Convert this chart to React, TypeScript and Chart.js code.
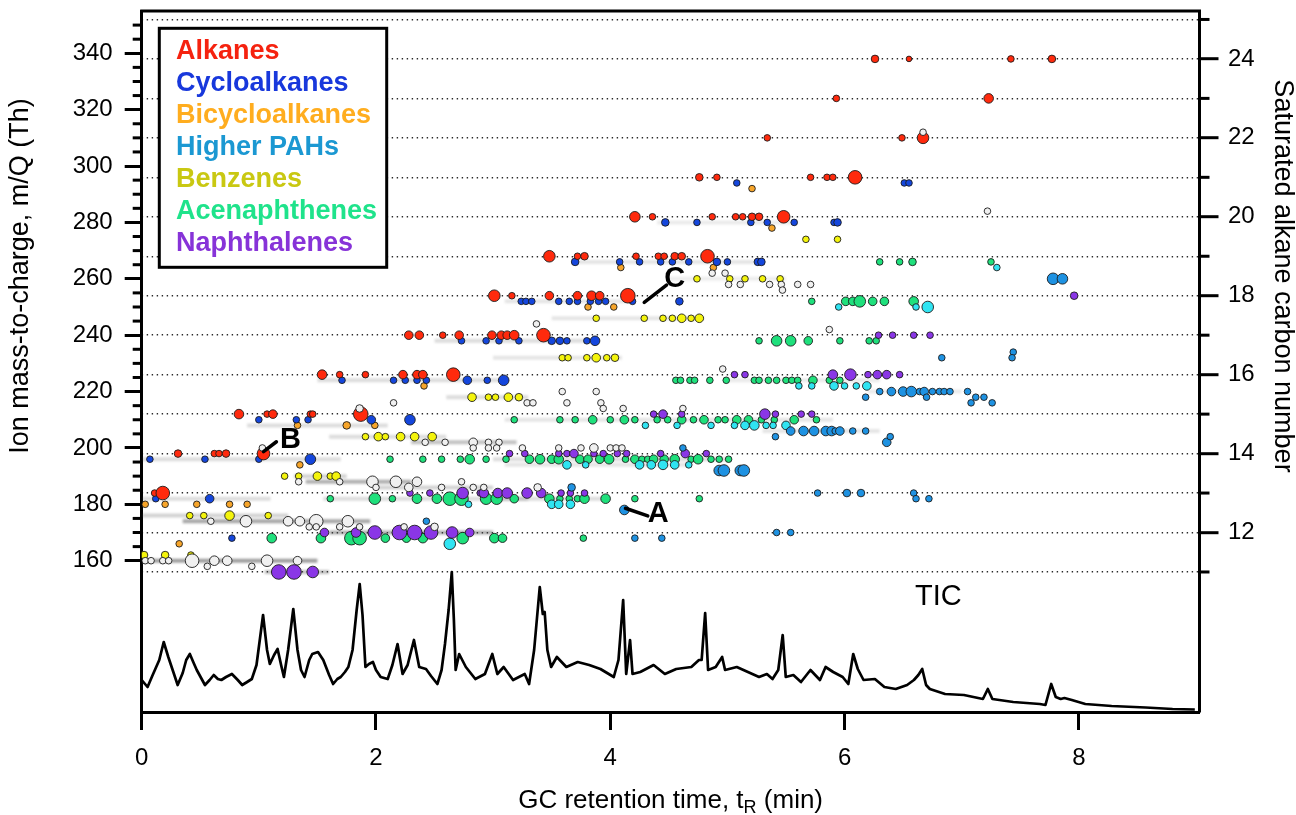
import React, { useEffect, useRef } from 'react';
import { Chart, registerables } from 'chart.js';

Chart.register(...registerables);

// [retention time (min), ion m/Q (Th), relative signal]
type Pt = [number, number, number];

const alkanes: Pt[] = [
  [6.26, 338, 2], [6.55, 338, 0], [7.42, 338, 1], [7.77, 338, 2],
  [5.93, 324, 1], [7.23, 324, 4],
  [5.34, 310, 1], [6.49, 310, 1], [6.67, 310, 6],
  [4.76, 296, 2], [4.91, 296, 1], [5.71, 296, 1], [5.85, 296, 1], [5.9, 296, 1], [6.09, 296, 8],
  [4.21, 282, 5], [4.36, 282, 1], [4.87, 282, 1], [5.07, 282, 1], [5.13, 282, 1], [5.21, 282, 2], [5.27, 282, 2], [5.48, 282, 7],
  [3.48, 268, 6], [3.72, 268, 1], [3.78, 268, 2], [4.22, 268, 1], [4.41, 268, 1], [4.46, 268, 1], [4.55, 268, 2], [4.61, 268, 2], [4.83, 268, 8],
  [3.01, 254, 6], [3.16, 254, 1], [3.48, 254, 3], [3.72, 254, 3], [3.84, 254, 4], [3.91, 254, 3], [4.15, 254, 9],
  [2.28, 240, 3], [2.37, 240, 3], [2.57, 240, 1], [2.71, 240, 3], [2.99, 240, 3], [3.07, 240, 3], [3.12, 240, 3], [3.18, 240, 4], [3.43, 240, 8],
  [1.54, 226, 4], [1.69, 226, 1], [1.91, 226, 1], [2.23, 226, 3], [2.35, 226, 3], [2.4, 226, 3], [2.66, 226, 8],
  [0.83, 212, 4], [1.07, 212, 1], [1.12, 212, 3], [1.44, 212, 1], [1.46, 212, 1], [1.87, 212, 9],
  [0.31, 198, 2], [0.62, 198, 1], [0.66, 198, 1], [0.72, 198, 2], [1.04, 198, 7],
  [0.11, 184, 1], [0.18, 184, 8],
];

const cycloalkanes: Pt[] = [
  [5.08, 294, 1], [6.51, 294, 1], [6.55, 294, 1],
  [4.47, 280, 2], [4.74, 280, 1], [5.2, 280, 1], [5.34, 280, 1], [5.57, 280, 1], [5.91, 280, 1], [5.94, 280, 2],
  [3.7, 266, 2], [4.08, 266, 1], [4.25, 266, 1], [4.43, 266, 1], [4.53, 266, 1], [4.67, 266, 1], [4.91, 266, 2], [5.0, 266, 1], [5.26, 266, 2], [5.29, 266, 2],
  [3.24, 252, 1], [3.28, 252, 1], [3.33, 252, 1], [3.56, 252, 1], [3.65, 252, 1], [3.72, 252, 1], [3.83, 252, 1], [3.9, 252, 1], [3.96, 252, 1], [4.19, 252, 1], [4.59, 252, 2],
  [2.73, 238, 1], [2.94, 238, 1], [3.05, 238, 1], [3.22, 238, 1], [3.5, 238, 2], [3.57, 238, 2], [3.63, 238, 1], [3.8, 238, 1], [3.87, 238, 4],
  [1.71, 224, 1], [2.15, 224, 1], [2.25, 224, 1], [2.35, 224, 1], [2.43, 224, 1], [2.78, 224, 3], [2.95, 224, 1], [3.09, 224, 5],
  [1.0, 210, 1], [1.32, 210, 1], [1.42, 210, 1], [1.96, 210, 3], [2.29, 210, 5],
  [0.07, 196, 1], [0.54, 196, 1], [1.0, 196, 1], [1.44, 196, 5],
  [0.12, 182, 1], [0.58, 182, 3],
  [0.77, 168, 1],
];

const bicycloalkanes: Pt[] = [
  [5.21, 292, 1], [5.38, 278, 1], [4.09, 264, 1], [4.88, 264, 1], [3.81, 250, 1], [4.03, 250, 1],
  [2.41, 222, 1], [1.33, 208, 1], [1.75, 208, 2], [1.99, 208, 1], [1.35, 194, 1],
  [0.03, 180, 1], [0.2, 180, 1], [0.47, 180, 1], [0.75, 180, 1], [0.9, 180, 1], [0.32, 166, 1],
];

const higherPAHs: Pt[] = [
  [7.78, 260, 6], [7.86, 260, 5],
  [6.83, 232, 1], [7.44, 234, 1], [7.43, 232, 1],
  [6.3, 220, 1], [6.4, 220, 3], [6.5, 220, 4], [6.57, 220, 5], [6.64, 220, 1], [6.68, 220, 3], [6.7, 218, 1], [6.75, 220, 1],
  [6.81, 220, 1], [6.85, 220, 1], [6.9, 220, 1], [7.05, 220, 1], [7.12, 218, 1], [7.19, 218, 1], [7.08, 216, 1], [7.26, 216, 1], [6.18, 218, 1],
  [5.54, 206, 3], [5.65, 206, 4], [5.74, 206, 4], [5.84, 206, 4], [5.89, 206, 4], [5.92, 206, 1], [5.96, 206, 3], [6.07, 206, 1], [6.18, 206, 1],
  [5.41, 204, 1], [6.36, 202, 3], [6.39, 204, 1],
  [4.93, 192, 5], [4.97, 192, 6], [5.11, 192, 5], [5.14, 192, 6],
  [4.62, 200, 1],
  [5.77, 184, 1], [6.02, 184, 2], [6.14, 184, 2], [6.59, 184, 1], [6.61, 182, 1], [6.72, 182, 1],
  [3.67, 186, 2], [4.12, 178, 4], [2.43, 174, 1],
  [4.21, 168, 1], [4.44, 168, 1], [5.42, 170, 1], [5.54, 170, 1],
];

const benzenes: Pt[] = [
  [5.67, 274, 1], [5.94, 274, 1],
  [4.74, 260, 1], [5.02, 260, 1], [5.15, 260, 1], [5.3, 260, 1], [5.45, 260, 1],
  [3.88, 246, 1], [4.29, 246, 1], [4.45, 246, 1], [4.53, 246, 1], [4.61, 246, 3], [4.69, 246, 1], [4.76, 246, 3],
  [3.59, 232, 1], [3.64, 232, 1], [3.8, 232, 1], [3.88, 232, 3], [3.97, 232, 1], [4.04, 232, 2],
  [2.82, 218, 3], [2.96, 218, 1], [3.02, 218, 1], [3.13, 218, 3], [3.22, 218, 2],
  [1.91, 204, 1], [2.02, 204, 3], [2.08, 204, 1], [2.21, 204, 3], [2.33, 204, 3], [2.48, 204, 3],
  [1.22, 190, 1], [1.34, 190, 1], [1.5, 190, 3], [1.61, 190, 1], [1.66, 190, 3],
  [0.41, 176, 1], [0.53, 176, 1], [0.75, 176, 4], [1.08, 176, 1],
  [0.02, 162, 2], [0.2, 162, 2], [0.42, 162, 1],
];

const acenaphthenes: Pt[] = [
  [6.3, 266, 1], [6.47, 266, 1], [6.58, 266, 2], [7.25, 266, 1],
  [5.72, 252, 1], [6.01, 252, 3], [6.07, 252, 3], [6.13, 252, 6], [6.24, 252, 3], [6.34, 252, 3], [6.59, 252, 4],
  [5.27, 238, 1], [5.42, 238, 5], [5.54, 238, 5], [5.69, 238, 3], [5.96, 238, 1], [6.21, 238, 1], [6.27, 238, 1],
  [4.56, 224, 1], [4.6, 224, 1], [4.68, 224, 1], [4.72, 224, 1], [4.85, 224, 1], [4.99, 224, 1], [5.23, 224, 1], [5.27, 224, 1],
  [5.35, 224, 1], [5.42, 224, 1], [5.5, 224, 1], [5.55, 224, 1], [5.6, 224, 1], [5.73, 224, 3], [5.87, 224, 1], [5.96, 224, 1],
  [3.18, 210, 1], [3.57, 210, 1], [3.7, 210, 1], [3.85, 210, 3], [4.0, 210, 1], [4.12, 210, 3], [4.21, 210, 1], [4.4, 210, 1],
  [4.49, 210, 1], [4.61, 210, 3], [4.71, 210, 1], [4.8, 210, 3], [4.92, 210, 1], [4.98, 210, 1], [5.08, 210, 3], [5.18, 210, 3],
  [5.29, 210, 1], [5.4, 210, 1], [5.57, 210, 3], [5.76, 210, 1],
  [2.12, 196, 1], [2.4, 196, 1], [2.56, 196, 1], [2.72, 196, 1], [2.8, 196, 4], [2.94, 196, 1], [3.11, 196, 1], [3.31, 196, 3],
  [3.4, 196, 4], [3.5, 196, 3], [3.56, 196, 4], [3.74, 196, 3], [3.81, 196, 3], [3.91, 196, 3], [3.99, 196, 4], [4.13, 196, 1],
  [4.21, 196, 3], [4.27, 196, 1], [4.32, 196, 1], [4.37, 196, 3], [4.46, 196, 3], [4.55, 196, 4], [4.69, 196, 1], [4.75, 196, 4],
  [4.86, 196, 1], [4.93, 196, 1], [5.01, 196, 1],
  [1.61, 182, 1], [1.99, 182, 6], [2.14, 182, 1], [2.35, 182, 4], [2.52, 182, 4], [2.63, 182, 8], [2.73, 182, 8], [2.94, 182, 6],
  [3.03, 182, 6], [3.18, 182, 3], [3.48, 182, 4], [3.57, 182, 1], [3.65, 182, 1], [3.72, 182, 1], [3.78, 182, 4], [3.96, 182, 4],
  [4.21, 182, 1], [4.76, 182, 1],
  [1.11, 168, 4], [1.53, 168, 4], [1.79, 168, 8], [1.86, 168, 8], [2.08, 168, 3], [2.26, 168, 3], [2.4, 168, 4], [2.74, 168, 6],
  [3.01, 168, 4], [3.08, 168, 3], [3.77, 168, 1],
];

const naphthalenes: Pt[] = [
  [7.96, 254, 2],
  [6.29, 240, 1], [6.41, 240, 1], [6.59, 240, 1], [6.73, 240, 1],
  [5.06, 226, 1], [5.15, 226, 1], [5.9, 226, 4], [6.05, 226, 6], [6.2, 226, 1], [6.28, 226, 3], [6.36, 226, 3], [6.47, 226, 1],
  [4.37, 212, 1], [4.45, 212, 3], [4.61, 212, 1], [5.32, 212, 5], [5.41, 212, 1], [5.63, 212, 1], [5.72, 212, 1],
  [3.14, 198, 1], [3.27, 198, 1], [3.56, 198, 1], [3.63, 198, 1], [3.69, 198, 3], [3.86, 198, 1], [3.94, 198, 1], [4.06, 198, 1],
  [4.14, 198, 1], [4.43, 198, 1], [4.64, 198, 3], [4.82, 198, 1],
  [2.29, 184, 1], [2.46, 184, 1], [2.74, 184, 6], [2.89, 184, 1], [2.92, 184, 4], [3.04, 184, 4], [3.12, 184, 5], [3.29, 184, 5],
  [3.41, 184, 4], [3.58, 184, 1], [3.66, 184, 1], [3.78, 184, 1],
  [1.56, 170, 3], [1.83, 170, 4], [1.99, 170, 8], [2.2, 170, 9], [2.33, 170, 9], [2.47, 170, 8], [2.65, 170, 6], [2.8, 170, 3],
  [1.17, 156, 9], [1.3, 156, 9], [1.46, 156, 6],
];

// cyan-coloured aromatic ions (not in the legend)
const otherAromatics: Pt[] = [
  [6.61, 250, 1], [6.71, 250, 6], [7.3, 264, 1], [5.95, 250, 1],
  [5.61, 222, 1], [5.72, 222, 1], [5.91, 222, 3], [6.0, 222, 1], [6.1, 222, 1], [6.19, 222, 3],
  [4.3, 208, 1], [4.57, 208, 1], [4.86, 208, 1], [5.06, 208, 1], [5.15, 208, 3], [5.23, 208, 4], [5.33, 208, 1], [5.39, 208, 1], [5.5, 208, 3],
  [3.63, 194, 3], [3.79, 194, 1], [4.25, 194, 3], [4.35, 194, 3], [4.45, 194, 4], [4.55, 194, 3], [4.67, 194, 1],
  [3.5, 180, 3], [3.56, 180, 3], [3.66, 180, 3], [2.79, 180, 1],
  [2.63, 166, 6],
];

// white / unassigned ions
const unassigned: Pt[] = [
  [6.67, 312, 1], [7.22, 284, 1],
  [4.87, 262, 1], [4.98, 262, 1],
  [5.01, 258, 1], [5.11, 258, 1], [5.36, 258, 1], [5.46, 258, 1], [5.6, 258, 1], [5.71, 258, 1], [5.47, 256, 1],
  [3.37, 244, 1], [5.87, 242, 1], [4.96, 228, 1],
  [3.59, 220, 1], [3.88, 220, 1], [3.29, 216, 1], [3.34, 216, 1], [3.63, 216, 1], [3.92, 216, 1], [3.94, 214, 1], [4.11, 214, 1],
  [4.62, 214, 1], [2.15, 216, 1], [1.86, 214, 2],
  [2.42, 202, 1], [2.59, 202, 1], [2.83, 202, 3], [2.96, 202, 1], [3.05, 202, 1],
  [2.83, 200, 1], [2.96, 200, 1], [3.03, 200, 1], [1.03, 200, 1],
  [3.25, 200, 1], [3.56, 200, 1], [3.75, 200, 1], [3.86, 200, 3], [4.0, 200, 1], [4.05, 200, 1], [4.1, 200, 1],
  [1.34, 188, 1], [1.69, 188, 1], [1.97, 188, 6], [2.17, 188, 6], [2.35, 188, 4], [2.0, 186, 1], [2.28, 186, 3], [2.73, 188, 1],
  [2.56, 186, 1], [2.83, 186, 1], [2.92, 186, 1], [3.38, 186, 2],
  [0.59, 174, 1], [0.89, 174, 6], [1.25, 174, 4], [1.35, 174, 4], [1.49, 174, 8], [1.76, 174, 6],
  [1.43, 172, 1], [1.49, 172, 1], [1.69, 172, 1], [1.86, 172, 1], [2.24, 172, 1], [2.5, 172, 2],
  [0.03, 160, 1], [0.08, 160, 1], [0.18, 160, 1], [0.23, 160, 1], [0.43, 160, 8], [0.62, 160, 4], [0.73, 160, 4], [1.07, 160, 6],
  [1.33, 160, 3], [0.56, 158, 1], [0.94, 158, 1],
];

// faint grey smears behind the ion rows: [t start, t end, m/Q, opacity]
const streaks: [number, number, number, number][] = [
  [0.0, 1.5, 160, 0.55], [1.05, 1.6, 156, 0.35], [0.0, 1.25, 176, 0.25], [0.35, 1.95, 174, 0.5],
  [1.4, 2.3, 188, 0.45], [1.3, 1.75, 190, 0.25], [1.6, 3.0, 170, 0.45], [0.0, 1.1, 182, 0.2],
  [1.55, 3.3, 182, 0.2], [0.0, 1.7, 196, 0.2], [2.3, 3.2, 202, 0.35], [1.6, 2.6, 204, 0.2],
  [0.9, 2.1, 208, 0.2], [2.6, 3.3, 218, 0.2], [1.5, 3.1, 224, 0.2], [2.5, 3.9, 238, 0.2],
  [3.1, 4.2, 252, 0.15], [3.7, 5.3, 266, 0.15], [4.4, 5.6, 280, 0.12], [3.5, 4.8, 246, 0.15],
  [3.0, 4.1, 232, 0.15], [3.1, 5.9, 210, 0.15], [3.0, 5.0, 196, 0.2], [3.0, 4.0, 182, 0.2],
  [3.1, 4.7, 194, 0.15], [5.3, 6.3, 206, 0.15], [5.0, 6.3, 224, 0.12], [6.2, 7.0, 220, 0.12],
  [4.5, 5.5, 260, 0.1], [2.0, 3.0, 186, 0.25],
];

// total ion chromatogram
const ticTime: number[] = [
  0.0, 0.05, 0.09, 0.12, 0.15, 0.188, 0.227, 0.27, 0.307, 0.35, 0.38, 0.411, 0.44, 0.47, 0.54, 0.58, 0.615, 0.65, 0.68, 0.72,
  0.77, 0.82, 0.858, 0.9, 0.94, 0.98, 1.036, 1.07, 1.094, 1.13, 1.16, 1.19, 1.214, 1.25, 1.294, 1.33, 1.36, 1.39, 1.43, 1.456,
  1.505, 1.55, 1.6, 1.634, 1.67, 1.699, 1.735, 1.764, 1.8, 1.835, 1.861, 1.885, 1.91, 1.94, 1.974, 2.0, 2.04, 2.1, 2.14, 2.184,
  2.227, 2.27, 2.324, 2.369, 2.427, 2.47, 2.524, 2.56, 2.589, 2.62, 2.647, 2.665, 2.68, 2.71, 2.767, 2.848, 2.93, 2.993, 3.036, 3.09,
  3.17, 3.27, 3.307, 3.35, 3.398, 3.424, 3.44, 3.463, 3.495, 3.544, 3.625, 3.722, 3.82, 3.916, 4.03, 4.07, 4.11, 4.136, 4.169, 4.19,
  4.256, 4.37, 4.466, 4.563, 4.692, 4.757, 4.78, 4.81, 4.835, 4.9, 4.955, 4.98, 5.08, 5.175, 5.27, 5.337, 5.385, 5.434, 5.472, 5.498,
  5.563, 5.628, 5.709, 5.79, 5.838, 5.903, 5.984, 6.032, 6.074, 6.113, 6.162, 6.259, 6.34, 6.437, 6.534, 6.592, 6.63, 6.663, 6.696, 6.728,
  6.858, 7.019, 7.181, 7.223, 7.262, 7.44, 7.667, 7.715, 7.764, 7.803, 7.845, 7.877, 7.94, 8.055, 8.28, 8.57, 8.8, 8.99,
];
const ticSignal: number[] = [
  32, 25, 36, 44, 52, 70, 55, 40, 27, 39, 52, 58, 50, 42, 27, 32, 37, 33, 32, 35,
  38, 32, 27, 30, 33, 47, 97, 62, 48, 57, 63, 47, 35, 62, 103, 62, 42, 35, 52, 58,
  60, 52, 37, 28, 33, 35, 40, 45, 62, 102, 128, 97, 45, 48, 50, 42, 35, 33, 47, 68,
  38, 47, 72, 45, 43, 36, 28, 42, 68, 102, 140, 92, 42, 58, 45, 33, 38, 58, 38, 45,
  32, 38, 28, 62, 125, 98, 100, 62, 45, 55, 45, 50, 47, 43, 35, 52, 112, 38, 72, 38,
  40, 47, 38, 43, 45, 52, 52, 99, 42, 45, 55, 42, 45, 40, 35, 38, 33, 42, 77, 35,
  37, 30, 42, 32, 45, 40, 35, 28, 58, 43, 32, 33, 25, 23, 27, 32, 37, 43, 27, 23,
  18, 17, 13, 23, 13, 10, 8, 7, 28, 15, 13, 14, 12, 8, 6, 4.5, 3, 2.5,
];

const timeTicks = [0, 2, 4, 6, 8];
const mzTicks = [160, 180, 200, 220, 240, 260, 280, 300, 320, 340];
const mzMinorTicks = [165, 170, 175, 185, 190, 195, 205, 210, 215, 225, 230, 235, 245, 250, 255, 265, 270, 275,
  285, 290, 295, 305, 310, 315, 325, 330, 335, 345, 350];
const carbonTicks = [11, 12, 13, 14, 15, 16, 17, 18, 19, 20, 21, 22, 23, 24, 25];

const legendNames = ['Alkanes', 'Cycloalkanes', 'Bicycloalkanes', 'Higher PAHs', 'Benzenes', 'Acenaphthenes', 'Naphthalenes'];
const legendColors = ['#f5220f', '#1838dc', '#ffad1f', '#1b98d2', '#c9c812', '#1fe38b', '#8733d8'];

// labelled ions: line from -> to, letter at
const callouts: { label: string; from: [number, number]; to: [number, number]; at: [number, number] }[] = [
  { label: 'A', from: [4.13, 178.6], to: [4.32, 175.9], at: [4.41, 176.4] },
  { label: 'B', from: [1.04, 198.7], to: [1.15, 202.2], at: [1.27, 202.8] },
  { label: 'C', from: [4.29, 251.6], to: [4.48, 257.8], at: [4.55, 259.9] },
];
const ticLabelAt: [number, number] = [6.8, 115];

const T_MAX = 9.03;
const MZ_MIN = 106.33;
const MZ_MAX = 355;
const FONT = "'Liberation Sans', Arial, Helvetica, sans-serif";

const radiusOf = (s: number) => 2.8 + 0.5 * s;

const seriesDefs = [
  { label: 'Unassigned', pts: unassigned, fill: '#f0f0f0' },
  { label: 'Alkanes', pts: alkanes, fill: '#ff2a0d' },
  { label: 'Cycloalkanes', pts: cycloalkanes, fill: '#1446dc' },
  { label: 'Bicycloalkanes', pts: bicycloalkanes, fill: '#f7a52a' },
  { label: 'Higher PAHs', pts: higherPAHs, fill: '#1e92e2' },
  { label: 'Benzenes', pts: benzenes, fill: '#f4f40c' },
  { label: 'Naphthalenes', pts: naphthalenes, fill: '#8a36e6' },
  { label: 'Other aromatics', pts: otherAromatics, fill: '#30e4f2' },
  { label: 'Acenaphthenes', pts: acenaphthenes, fill: '#1fe07c' },
];

const decorPlugin = {
  id: 'decor',
  beforeDatasetDraw(chart: any, args: any) {
    if (chart.data.datasets[args.index].isStreak) {
      chart.ctx.save();
      chart.ctx.filter = 'blur(1.3px)';
    }
  },
  afterDatasetDraw(chart: any, args: any) {
    if (chart.data.datasets[args.index].isStreak) {
      chart.ctx.restore();
    }
  },
  afterDraw(chart: any) {
    const { ctx, chartArea: ca, scales } = chart;
    const sx = scales.x, sy = scales.y, sy2 = scales.y2, st = scales.yT;
    ctx.save();
    ctx.strokeStyle = '#000';
    ctx.lineCap = 'butt';
    // top frame
    ctx.lineWidth = 3;
    ctx.beginPath();
    ctx.moveTo(ca.left - 1.5, ca.top);
    ctx.lineTo(ca.right + 1.5, ca.top);
    ctx.stroke();
    // minor ticks
    for (const v of mzMinorTicks) {
      const py = sy.getPixelForValue(v);
      ctx.beginPath();
      ctx.moveTo(ca.left - 9, py);
      ctx.lineTo(ca.left, py);
      ctx.stroke();
    }
    for (const c of carbonTicks) {
      if (c % 2 === 0) continue;
      const py = sy2.getPixelForValue(c);
      ctx.beginPath();
      ctx.moveTo(ca.right, py);
      ctx.lineTo(ca.right + 10, py);
      ctx.stroke();
    }
    // legend
    const lx = 159.3, ly = 28.3, lw = 227.4, lh = 239;
    ctx.fillStyle = '#fff';
    ctx.fillRect(lx, ly, lw, lh);
    ctx.lineWidth = 3;
    ctx.strokeRect(lx, ly, lw, lh);
    ctx.font = `bold 27px ${FONT}`;
    ctx.textAlign = 'left';
    ctx.textBaseline = 'middle';
    legendNames.forEach((n, i) => {
      ctx.fillStyle = legendColors[i];
      ctx.fillText(n, 176, 52 + i * 31.95);
    });
    // callouts
    ctx.fillStyle = '#000';
    ctx.lineWidth = 3.5;
    ctx.lineCap = 'round';
    ctx.font = `bold 29px ${FONT}`;
    ctx.textAlign = 'center';
    for (const c of callouts) {
      ctx.beginPath();
      ctx.moveTo(sx.getPixelForValue(c.from[0]), sy.getPixelForValue(c.from[1]));
      ctx.lineTo(sx.getPixelForValue(c.to[0]), sy.getPixelForValue(c.to[1]));
      ctx.stroke();
      ctx.fillText(c.label, sx.getPixelForValue(c.at[0]), sy.getPixelForValue(c.at[1]));
    }
    ctx.font = `29px ${FONT}`;
    ctx.fillText('TIC', sx.getPixelForValue(ticLabelAt[0]), st.getPixelForValue(ticLabelAt[1]));
    // axis titles
    ctx.font = `27px ${FONT}`;
    ctx.save();
    ctx.translate(21, 276);
    ctx.rotate(-Math.PI / 2);
    ctx.fillText('Ion mass-to-charge, m/Q (Th)', 0, 0);
    ctx.restore();
    ctx.save();
    ctx.translate(1282, 276);
    ctx.rotate(Math.PI / 2);
    ctx.fillText('Saturated alkane carbon number', 0, 0);
    ctx.restore();
    // x title with subscript
    const p1 = 'GC retention time, t';
    const p2 = 'R';
    const p3 = ' (min)';
    ctx.textAlign = 'left';
    ctx.textBaseline = 'alphabetic';
    ctx.font = `26px ${FONT}`;
    const w1 = ctx.measureText(p1).width;
    const w3 = ctx.measureText(p3).width;
    ctx.font = `18px ${FONT}`;
    const w2 = ctx.measureText(p2).width;
    const cx = (ca.left + ca.right) / 2;
    let xx = cx - (w1 + w2 + w3) / 2;
    const base = 808;
    ctx.font = `26px ${FONT}`;
    ctx.fillText(p1, xx, base);
    xx += w1;
    ctx.font = `18px ${FONT}`;
    ctx.fillText(p2, xx, base + 5);
    xx += w2;
    ctx.font = `26px ${FONT}`;
    ctx.fillText(p3, xx, base);
    ctx.restore();
  },
};

export default function App() {
  const ref = useRef<HTMLCanvasElement>(null);
  useEffect(() => {
    const canvas = ref.current;
    if (!canvas) return;
    const tickFont = { family: FONT, size: 24 };
    const scatterSets = seriesDefs.map((d) => ({
      type: 'scatter' as const,
      label: d.label,
      data: d.pts.map((p) => ({ x: p[0], y: p[1] })),
      xAxisID: 'x',
      yAxisID: 'y',
      pointRadius: d.pts.map((p) => radiusOf(p[2])),
      pointHoverRadius: d.pts.map((p) => radiusOf(p[2])),
      pointBackgroundColor: d.fill,
      pointBorderColor: '#1c1c1c',
      pointBorderWidth: 0.9,
      showLine: false,
    }));
    const streakSets = streaks.map(([t1, t2, m, a]) => ({
      type: 'line' as const,
      label: 'streak',
      isStreak: true,
      data: [{ x: t1, y: m }, { x: t2, y: m }],
      xAxisID: 'x',
      yAxisID: 'y',
      borderColor: `rgba(80,80,80,${a})`,
      borderWidth: 4,
      pointRadius: 0,
      tension: 0,
    }));
    const ticSet = {
      type: 'line' as const,
      label: 'TIC',
      data: ticTime.map((t, i) => ({ x: t, y: ticSignal[i] })),
      xAxisID: 'x',
      yAxisID: 'yT',
      borderColor: '#000',
      borderWidth: 2.7,
      borderJoinStyle: 'round' as const,
      pointRadius: 0,
      tension: 0,
    };
    const chart = new Chart(canvas, {
      type: 'scatter',
      data: { datasets: [...scatterSets, ...streakSets, ticSet] as any },
      options: {
        responsive: false,
        animation: false,
        events: [],
        layout: { padding: { top: 11, left: 0, right: 0, bottom: 0 } },
        plugins: { legend: { display: false }, tooltip: { enabled: false }, title: { display: false } },
        scales: {
          x: {
            type: 'linear',
            position: 'bottom',
            min: 0,
            max: T_MAX,
            afterBuildTicks: (s: any) => { s.ticks = timeTicks.map((v) => ({ value: v })); },
            afterFit: (s: any) => { s.height = 815 - 712; s.paddingLeft = 0; s.paddingRight = 0; },
            ticks: { font: tickFont, color: '#000', padding: 14, maxRotation: 0, autoSkip: false, callback: (v: any) => String(v) },
            grid: { drawOnChartArea: false, drawTicks: true, tickLength: 18, tickWidth: 3, tickColor: '#000' },
            border: { display: true, color: '#000', width: 3 },
          },
          y: {
            type: 'linear',
            position: 'left',
            min: MZ_MIN,
            max: MZ_MAX,
            afterBuildTicks: (s: any) => { s.ticks = mzTicks.map((v) => ({ value: v })); },
            afterFit: (s: any) => { s.width = 141.7; s.paddingTop = 0; s.paddingBottom = 0; },
            ticks: { font: tickFont, color: '#000', padding: 12, autoSkip: false, callback: (v: any) => String(v) },
            grid: { drawOnChartArea: false, drawTicks: true, tickLength: 17, tickWidth: 3, tickColor: '#000' },
            border: { display: true, color: '#000', width: 3 },
          },
          y2: {
            type: 'linear',
            position: 'right',
            min: (MZ_MIN - 2) / 14,
            max: (MZ_MAX - 2) / 14,
            afterBuildTicks: (s: any) => { s.ticks = carbonTicks.map((v) => ({ value: v })); },
            afterFit: (s: any) => { s.width = 1296 - 1199.5; s.paddingTop = 0; s.paddingBottom = 0; },
            ticks: { font: tickFont, color: '#000', padding: 9.5, autoSkip: false, callback: (v: any) => (v % 2 === 0 ? String(v) : '') },
            grid: {
              drawOnChartArea: true,
              drawTicks: true,
              color: '#2a2a2a',
              lineWidth: 1.4,
              tickLength: 19,
              tickWidth: 3,
              tickColor: (c: any) => (c.tick && c.tick.value % 2 === 0 ? '#000' : 'rgba(0,0,0,0)'),
            },
            border: { display: true, color: '#000', width: 3, dash: [1.4, 3.6] },
          },
          yT: { type: 'linear', display: false, min: 0, max: 701 },
        },
      } as any,
      plugins: [decorPlugin],
    });
    return () => chart.destroy();
  }, []);
  return (
    <div style={{ position: 'absolute', left: 0, top: 0, width: 1296, height: 815, background: '#fff' }}>
      <canvas ref={ref} width={1296} height={815} style={{ display: 'block', width: 1296, height: 815 }} />
    </div>
  );
}
